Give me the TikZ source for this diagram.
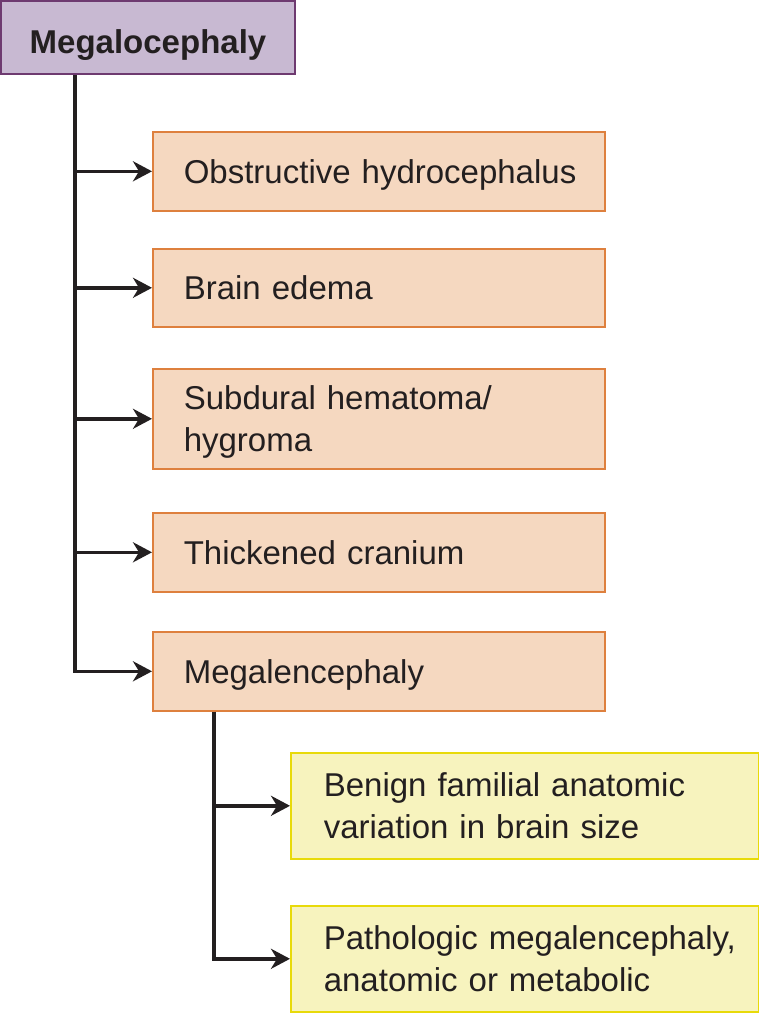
\documentclass[tikz,border=0pt]{standalone}
\usepackage{fontspec}
\setmainfont{Liberation Sans}
\usetikzlibrary{arrows.meta}
\definecolor{purfill}{RGB}{200,185,210}
\definecolor{purline}{RGB}{110,58,112}
\definecolor{orfill}{RGB}{245,216,192}
\definecolor{orline}{RGB}{222,128,62}
\definecolor{yefill}{RGB}{247,243,190}
\definecolor{yeline}{RGB}{232,218,10}
\definecolor{ink}{RGB}{35,31,32}
\tikzset{
  topbox/.style={draw=purline, fill=purfill, line width=2pt, minimum width=294pt, minimum height=73pt, inner sep=0pt, text height=31pt, text depth=0pt, anchor=north west, text=ink, font=\fontsize{33}{40}\selectfont\bfseries},
  orbox/.style={draw=orline, fill=orfill, line width=1.6pt, minimum width=452pt, inner xsep=0pt, inner ysep=0pt, text width=452pt, text depth=0pt, align=left, anchor=north west, text=ink, font=\fontsize{33}{42}\selectfont, execute at begin node={\leftskip=31pt\relax}},
  yebox/.style={draw=yeline, fill=yefill, line width=1.6pt, minimum width=468pt, minimum height=106pt, inner xsep=0pt, inner ysep=0pt, text width=468pt, text depth=42pt, align=left, anchor=north west, text=ink, font=\fontsize{33}{42}\selectfont, execute at begin node={\leftskip=33pt\relax}},
  conn/.style={draw=ink, line width=3.5pt, -{Stealth[length=19pt,width=20pt,inset=6pt]}},
}
\begin{document}
\begin{tikzpicture}[x=1pt,y=-1pt]
\useasboundingbox (0,0) rectangle (759,1013);
\node[topbox] (top) at (0,0) {Megalocephaly};
\node[orbox, minimum height=79pt] (b1) at (152,131) {Obstructive hydrocephalus};
\node[orbox, minimum height=78pt] (b2) at (152,248) {Brain edema};
\node[orbox, minimum height=100pt, text depth=42pt] (b3) at (152,368) {Subdural hematoma/\\hygroma};
\node[orbox, minimum height=79pt] (b4) at (152,512) {Thickened cranium};
\node[orbox, minimum height=79pt] (b5) at (152,631) {Megalencephaly};
\node[yebox] (y1) at (290,752) {Benign familial anatomic\\variation in brain size};
\node[yebox] (y2) at (290,905) {Pathologic megalencephaly,\\anatomic or metabolic};
\coordinate (tr) at (75,0);
\coordinate (tr2) at (214,0);
\draw[conn] (top.south -| tr) |- (b5.west);
\draw[conn] (b1.west -| tr) -- (b1.west);
\draw[conn] (b2.west -| tr) -- (b2.west);
\draw[conn] (b3.west -| tr) -- (b3.west);
\draw[conn] (b4.west -| tr) -- (b4.west);
\draw[conn] (b5.south -| tr2) |- (y2.west);
\draw[conn] (y1.west -| tr2) -- (y1.west);
\end{tikzpicture}
\end{document}
